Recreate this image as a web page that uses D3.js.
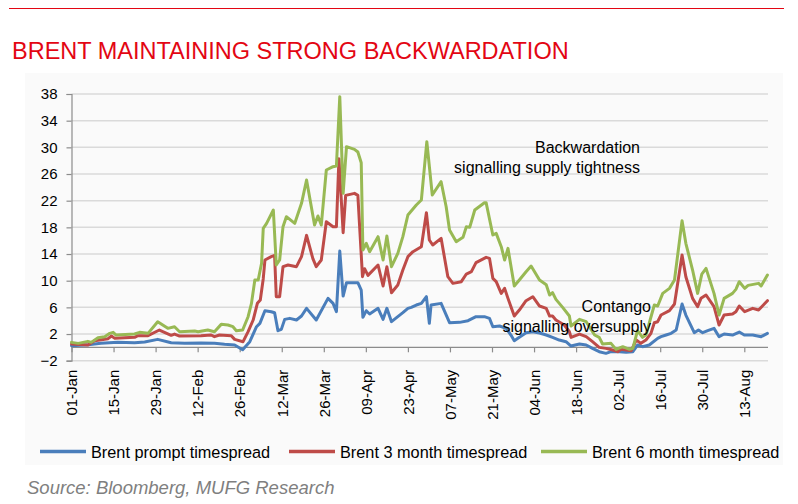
<!DOCTYPE html>
<html>
<head>
<meta charset="utf-8">
<script src="https://cdn.jsdelivr.net/npm/d3@7"></script>
<style>
  body { margin: 0; background: #fff; }
  text { font-family: "Liberation Sans", Arial, sans-serif; }
</style>
</head>
<body>
<div id="chart"></div>
<script>
/**
 * DATA
 * x values are trading-day positions counted from 01-Jan (one label every 10 days)
 * */
const tickLabels = ["01-Jan", "15-Jan", "29-Jan", "12-Feb", "26-Feb", "12-Mar", "26-Mar", "09-Apr",
  "23-Apr", "07-May", "21-May", "04-Jun", "18-Jun", "02-Jul", "16-Jul", "30-Jul", "13-Aug"];
const yTicks = [-2, 2, 6, 10, 14, 18, 22, 26, 30, 34, 38];
const seriesNames = ["Brent prompt timespread", "Brent 3 month timespread", "Brent 6 month timespread"];
const seriesColors = ["#4a7ebb", "#be4b48", "#98b954"];

const prompt = [[0,0.25],[4,0.4],[7,0.6],[11,0.75],[15,0.7],[17.4,0.8],[20.5,1.2],[23.7,0.7],[26.9,0.6],
  [30.8,0.65],[34,0.6],[36.4,0.45],[38.8,0.35],[40.7,-0.35],[42.4,0.85],[44,3.1],[44.8,3.6],[46,5.5],
  [47.5,5.35],[48.3,5.2],[49.1,2.5],[49.9,2.7],[50.7,4.2],[51.9,4.35],[53.5,4.1],[54.7,4.7],[55.9,5.85],
  [58.2,4.1],[61,7.35],[62.2,6.6],[63,5.35],[63.8,14.45],[64.6,7.7],[65.4,9.7],[66.1,9.7],[68.1,9.7],
  [68.9,8.6],[69.3,4.5],[70.1,5.5],[70.9,5.0],[72.9,5.85],[74.1,4.2],[75,5.85],[76.1,3.85],[77.6,4.6],
  [78.8,5.2],[80,5.85],[80.8,6.0],[82,6.35],[83.2,6.6],[84.4,7.6],[85.1,3.6],[85.5,6.35],[87.9,6.6],
  [89.9,3.7],[92.3,3.75],[94.3,4.0],[96.2,4.6],[98.2,4.6],[99.4,4.35],[100.2,3.1],[101.8,3.2],[103.4,2.85],
  [104.5,1.85],[105.3,1.0],[106.5,1.5],[108.1,2.2],[109.7,2.35],[111.3,2.15],[112.9,1.85],[114.4,1.5],
  [116,1.1],[117.6,0.85],[118.8,0.2],[120.8,0.5],[122.4,0.35],[123.9,-0.15],[125.5,-0.65],[127.1,-0.9],
  [128.3,-0.65],[130.3,-0.65],[131.9,-0.75],[133.5,-0.65],[134.6,0.35],[135.8,0.1],[137.4,0.35],
  [139.4,1.35],[140.2,1.6],[141.4,1.85],[142.6,2.1],[143.8,2.6],[145.2,6.5],[146.1,4.85],[148.1,2.2],
  [149.1,2.6],[150.1,2.2],[151.3,2.5],[152.8,2.85],[154,1.6],[155.2,2.0],[157.2,1.85],[158.8,2.3],
  [160,1.85],[162,1.85],[164,1.6],[165.5,2.1]];

const threeMonth = [[0,0.5],[3.9,0.35],[5.5,1.0],[8.7,1.3],[9.5,1.7],[10.3,1.35],[15,1.5],[15.8,1.75],
  [18.2,1.75],[20.9,2.6],[23.7,1.8],[24.5,2.0],[25.7,1.7],[30.8,1.75],[33.2,1.85],[34,1.6],[35.2,1.85],
  [38,1.75],[38.8,1.2],[40.8,0.85],[42,2.35],[43.2,4.1],[44.2,6.6],[44.9,7.1],[45.6,10.3],[46,13.1],
  [47.5,13.6],[48.3,13.8],[48.7,7.6],[49.5,7.6],[50.3,12.1],[51.5,12.35],[53.5,12.1],[54.7,13.6],
  [55.9,16.8],[57.4,13.3],[58.2,12.1],[59.4,13.1],[60.6,18.85],[62.2,18.1],[63,18.1],[63.6,28.3],
  [64.6,17.2],[65.2,22.8],[67.3,23.1],[68.1,22.8],[69.2,10.6],[69.7,11.8],[70.5,10.8],[72.9,12.35],
  [74.1,9.2],[75,12.1],[76.1,8.2],[77.6,9.35],[78.8,11.6],[80,13.6],[81.2,14.35],[83.2,15.1],[84.4,20.2],
  [85.1,16.1],[85.9,15.35],[87.9,16.35],[89.5,10.6],[90.7,9.6],[92.7,9.85],[93.9,11.0],[95.1,11.35],
  [96.2,12.7],[98.6,13.5],[99.4,13.35],[100.2,10.35],[101,9.85],[102.2,8.1],[103,8.85],[103.8,7.35],
  [105.3,4.7],[106.5,5.6],[108.1,7.0],[109.7,7.6],[111.3,6.2],[112.9,5.85],[113.7,4.7],[114.4,4.7],
  [115.2,4.1],[117.2,3.35],[118.4,2.35],[118.8,1.5],[120.8,2.0],[122.4,1.6],[123.9,0.85],[125.5,0],
  [127.1,-0.15],[128.7,-0.4],[129.9,-0.65],[130.7,-0.3],[131.9,-0.4],[133.1,-0.5],[134.3,1.1],[135.4,0.6],
  [136.6,1.1],[137.8,2.1],[138.6,3.7],[139.4,3.85],[140.2,4.85],[142.2,5.5],[143.4,6.5],[145.2,13.85],
  [146.1,10.6],[147.7,7.35],[148.9,6.1],[149.7,7.35],[150.9,7.85],[152.8,6.1],[154,3.35],[155.2,4.85],
  [157.2,5.0],[158,5.35],[158.8,6.2],[160.1,5.35],[162,5.85],[163.4,5.6],[165.5,7.0]];

const sixMonth = [[0,0.75],[1.6,0.6],[3.9,0.9],[4.7,0.75],[6.3,1.45],[7.9,1.6],[9.1,2.1],[9.9,2.25],
  [10.6,1.85],[15,2.0],[16.2,2.25],[18.2,2.1],[20.5,3.85],[22.9,2.85],[24.5,3.1],[25.7,2.35],[29.3,2.45],
  [30.1,2.35],[32.4,2.6],[34,2.35],[35.6,3.45],[37.2,3.35],[38.4,3.1],[39.2,2.5],[40.7,2.6],[42,4.6],
  [42.8,6.6],[43.6,10.1],[44.4,10.1],[45.2,12.6],[45.6,17.85],[46.4,18.6],[48,20.6],[48.7,12.35],
  [49.5,13.1],[50.3,18.1],[51.1,19.6],[53.1,18.6],[54.7,21.6],[55.9,25.1],[57.8,18.35],[58.6,19.7],
  [59.4,18.35],[60.6,26.6],[62.2,27.1],[63,27.2],[63.8,37.6],[64.6,23.1],[65.4,30.1],[67.3,29.7],
  [68.1,29.3],[68.9,27.7],[69.3,14.6],[70.1,15.6],[70.9,14.35],[72.9,16.6],[74.1,13.1],[75,16.7],
  [76.1,12.1],[77.6,14.1],[78.8,16.6],[80,19.85],[82,21.35],[83.2,22.1],[84.5,30.85],[85.8,22.85],
  [87.9,24.85],[89.1,21.1],[89.9,17.6],[91.5,15.85],[93.1,16.5],[93.9,18.1],[94.7,18.0],[95.9,20.6],
  [98.2,21.7],[98.6,21.7],[100.2,16.85],[101,17.1],[102.2,15.1],[103,13.1],[103.8,14.85],[105.3,9.2],
  [106.5,10.1],[108.1,11.35],[109.3,12.2],[111.3,10.1],[112.9,9.4],[113.7,7.85],[114.4,8.2],[115.2,7.2],
  [116.8,6.0],[118.4,4.7],[118.8,3.2],[120.8,4.2],[122.4,3.85],[124.4,1.85],[125.5,1.5],[126.3,0.5],
  [128.3,0.6],[129.5,-0.3],[131.1,0.1],[132.7,-0.3],[133.5,-0.15],[134.6,2.5],[135.8,1.5],[136.6,1.85],
  [138.6,6.35],[139.4,6.2],[140.6,8.1],[142.2,8.85],[143.4,10.1],[145.2,19.0],[146.1,15.6],[147.7,11.6],
  [148.9,8.1],[149.9,11.0],[150.9,11.85],[152.8,8.1],[154,4.85],[155.2,7.35],[157.2,8.1],[158,8.7],
  [158.8,9.85],[160.1,8.85],[160.9,9.3],[163.4,9.6],[164,9.2],[165.5,10.85]];

const series = [prompt, threeMonth, sixMonth];

/**
 * SVG SETUP
 * */
const width = 798, height = 504;
const svg = d3.select("#chart").append("svg")
  .attr("width", width)
  .attr("height", height);

// faint chart panel
svg.append("rect")
  .attr("x", 25).attr("y", 73)
  .attr("width", 758).attr("height", 392)
  .attr("fill", "#fafafa");

// red rule + title
svg.append("line")
  .attr("x1", 9).attr("x2", 784)
  .attr("y1", 8.5).attr("y2", 8.5)
  .attr("stroke", "#e30613").attr("stroke-width", 1.2);

svg.append("text")
  .attr("x", 12).attr("y", 59)
  .attr("fill", "#e30613")
  .style("font-size", "23.5px")
  .text("BRENT MAINTAINING STRONG BACKWARDATION");

/**
 * SCALES + AXES
 * */
const x = d3.scaleLinear().domain([0, 160]).range([71.5, 744.3]);
const y = d3.scaleLinear().domain([-2, 38]).range([360.7, 94]);
const plotRight = 768;

// gridlines
svg.append("g")
  .selectAll("line")
  .data(yTicks)
  .join("line")
  .attr("x1", x(0)).attr("x2", plotRight)
  .attr("y1", d => y(d)).attr("y2", d => y(d))
  .attr("stroke", "#dadada")
  .attr("stroke-width", 1.5);

const yAxis = svg.append("g")
  .attr("transform", `translate(${x(0)},0)`)
  .call(d3.axisLeft(y).tickValues(yTicks).tickSize(5).tickPadding(9).tickFormat(d3.format("d")));

const xAxis = svg.append("g")
  .attr("transform", `translate(0,${y(0)})`)
  .call(d3.axisBottom(x)
    .tickValues(tickLabels.map((d, i) => i * 10))
    .tickSize(5)
    .tickFormat((d, i) => tickLabels[i]))
  .call(g => g.select(".domain").attr("d", `M${x(0)},0H${plotRight}`));

xAxis.selectAll(".tick text")
  .attr("transform", `translate(0,${y(-2) - y(0) + 9}) rotate(-90)`)
  .attr("x", 0).attr("y", 0)
  .attr("dy", "0.35em")
  .attr("text-anchor", "end");

[yAxis, xAxis].forEach(g => {
  g.selectAll(".domain, .tick line").attr("stroke", "#8c8c8c").attr("stroke-width", 1.2);
  g.selectAll(".tick text")
    .attr("fill", "#000")
    .style("font-size", "15px")
    .style("font-family", "'Liberation Sans', Arial, sans-serif");
});

/**
 * LINES
 * */
const line = d3.line()
  .x(d => x(d[0]))
  .y(d => y(d[1]));

svg.append("g")
  .selectAll("path")
  .data(series)
  .join("path")
  .attr("d", line)
  .attr("fill", "none")
  .attr("stroke", (d, i) => seriesColors[i])
  .attr("stroke-width", 3)
  .attr("stroke-linejoin", "round")
  .attr("stroke-linecap", "round");

/**
 * ANNOTATIONS
 * */
const notes = [
  { lines: ["Backwardation", "signalling supply tightness"], x: 640, y: 153 },
  { lines: ["Contango", "signalling oversupply"], x: 651, y: 312 }
];
notes.forEach(n => {
  svg.append("text")
    .attr("text-anchor", "end")
    .style("font-size", "16px")
    .selectAll("tspan")
    .data(n.lines)
    .join("tspan")
    .attr("x", n.x)
    .attr("y", (d, i) => n.y + i * 19.5)
    .text(d => d);
});

/**
 * LEGEND
 * */
const legendX = [40, 289, 541];
const legend = svg.append("g")
  .selectAll("g")
  .data(seriesNames)
  .join("g")
  .attr("transform", (d, i) => `translate(${legendX[i]},451.5)`);

legend.append("line")
  .attr("x1", 0).attr("x2", 46)
  .attr("stroke", (d, i) => seriesColors[i])
  .attr("stroke-width", 3.5);

legend.append("text")
  .attr("x", 51).attr("y", 6)
  .style("font-size", "16.3px")
  .text(d => d);

// source
svg.append("text")
  .attr("x", 27).attr("y", 494)
  .attr("fill", "#7f7f7f")
  .style("font-size", "18.5px")
  .style("font-style", "italic")
  .text("Source: Bloomberg, MUFG Research");
</script>
</body>
</html>
